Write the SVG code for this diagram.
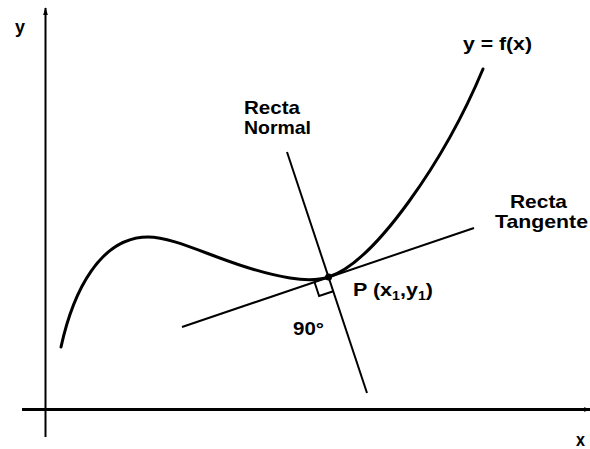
<svg xmlns="http://www.w3.org/2000/svg" width="590" height="449" viewBox="0 0 590 449">
<style>
  .lbl { font-family: "Liberation Sans", Arial, sans-serif; font-weight: bold; font-size: 19px; fill: #000; }
  .sub { font-size: 12.5px; }
  .ln { stroke: #000; stroke-width: 2; fill: none; }
  .axis { stroke: #000; fill: none; }
</style>
<defs>
  <marker id="arrY" viewBox="0 0 10 6" refX="9" refY="3" markerWidth="4" markerHeight="2.6" orient="auto" markerUnits="strokeWidth">
    <path d="M0,0 L10,3 L0,6 z" fill="#000"/>
  </marker>
  <marker id="arrX" viewBox="0 0 10 6" refX="9" refY="3" markerWidth="2.6" markerHeight="1.7" orient="auto" markerUnits="strokeWidth">
    <path d="M0,0 L10,3 L0,6 z" fill="#000"/>
  </marker>
</defs>
<rect width="590" height="449" fill="#fff"/>
<g id="axes">
  <line class="axis" x1="45.5" y1="437" x2="45.5" y2="8" stroke-width="2" marker-end="url(#arrY)"/>
  <line class="axis" x1="22" y1="409.5" x2="591" y2="409.5" stroke-width="3.2" marker-end="url(#arrX)"/>
  <text class="lbl" x="15" y="33" textLength="10" lengthAdjust="spacingAndGlyphs">y</text>
  <text class="lbl" x="576" y="446" textLength="9" lengthAdjust="spacingAndGlyphs">x</text>
</g>
<g id="curve">
  <path d="M61,347 C73,292 100,237 148,237 C180,237 230,268 290,278 C305,280.5 318,280.5 328.6,277 C375,262 445,160 483,69" stroke="#000" stroke-width="3" fill="none" stroke-linecap="round"/>
  <text class="lbl" x="463" y="50" textLength="69" lengthAdjust="spacingAndGlyphs">y = f(x)</text>
</g>
<g id="connectors">
  <line id="tangent" class="ln" x1="182" y1="327" x2="474" y2="228"/>
  <line id="normal" class="ln" x1="287" y1="152" x2="367" y2="393"/>
  <path id="right-angle" class="ln" d="M314.4,281.8 L319.1,296 L333.3,291.2" stroke-width="1.8"/>
</g>
<g id="point-P">
  <circle cx="328.6" cy="277" r="3.5" fill="#000"/>
  <text class="lbl" x="353" y="296" textLength="80" lengthAdjust="spacingAndGlyphs">P (x<tspan class="sub" dy="4">1</tspan><tspan dy="-4">,y</tspan><tspan class="sub" dy="4">1</tspan><tspan dy="-4">)</tspan></text>
</g>
<g id="label-normal">
  <text class="lbl" x="244" y="114" textLength="56" lengthAdjust="spacingAndGlyphs">Recta</text>
  <text class="lbl" x="244" y="134" textLength="67" lengthAdjust="spacingAndGlyphs">Normal</text>
</g>
<g id="label-tangent">
  <text class="lbl" x="510" y="208" textLength="57" lengthAdjust="spacingAndGlyphs">Recta</text>
  <text class="lbl" x="495" y="228" textLength="93" lengthAdjust="spacingAndGlyphs">Tangente</text>
</g>
<g id="label-angle">
  <text class="lbl" x="293" y="335" textLength="31" lengthAdjust="spacingAndGlyphs">90°</text>
</g>
</svg>
